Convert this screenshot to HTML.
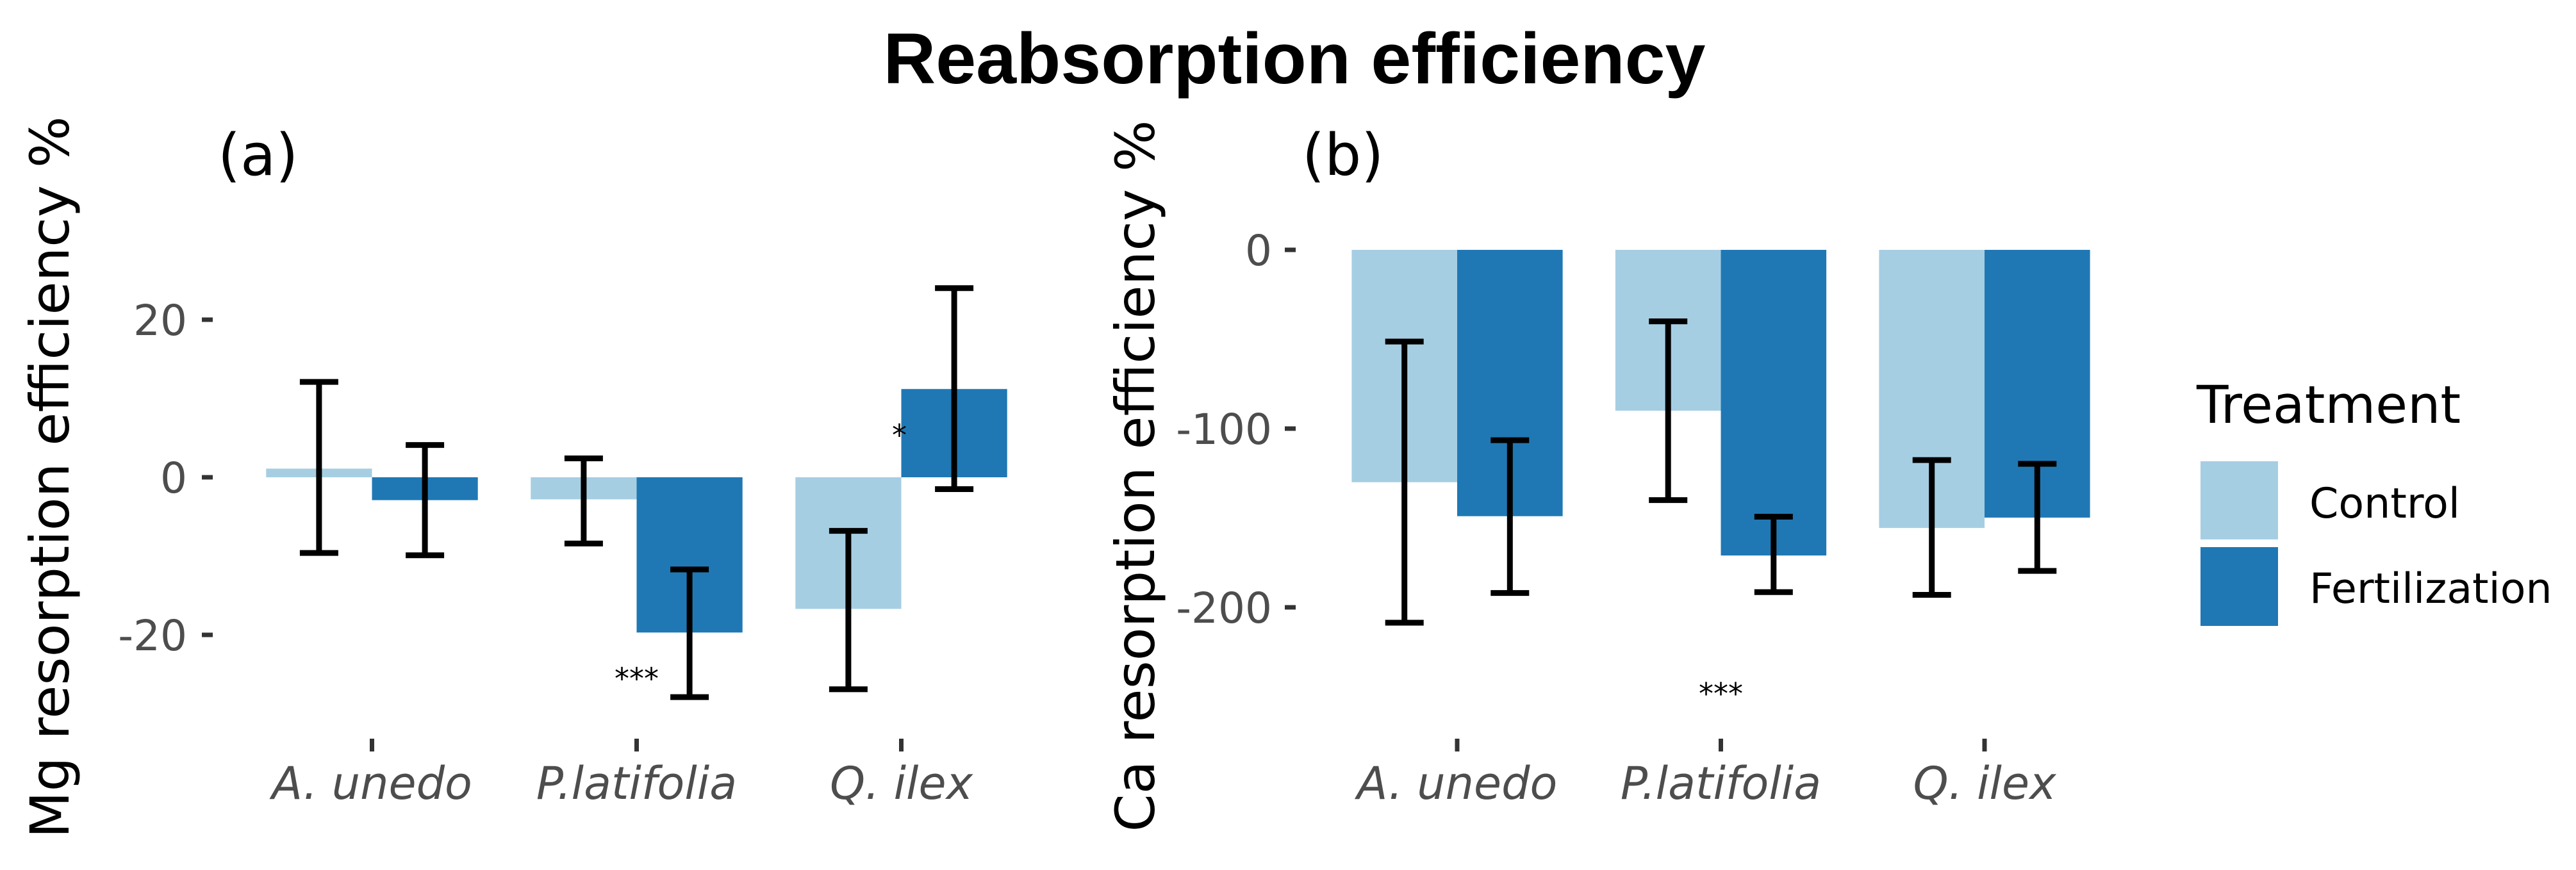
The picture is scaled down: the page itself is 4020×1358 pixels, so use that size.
<!DOCTYPE html>
<html><head><meta charset="utf-8"><style>
html,body{margin:0;padding:0;background:#fff;}
svg{display:block;}
</style></head><body>
<svg id="chart" width="4020" height="1358" viewBox="0 0 4020 1358" xmlns="http://www.w3.org/2000/svg">
<rect x="0" y="0" width="4020" height="1358" fill="#fff"/>
<text x="2020" y="130" text-anchor="middle" font-family="Liberation Sans, Arial, sans-serif" font-weight="bold" font-size="112" textLength="1283" lengthAdjust="spacingAndGlyphs">Reabsorption efficiency</text>
<text x="340" y="273" font-family="DejaVu Sans, sans-serif" font-size="90">(a)</text>
<text x="2032" y="273" font-family="DejaVu Sans, sans-serif" font-size="90">(b)</text>
<text transform="translate(107,745) rotate(-90)" text-anchor="middle" font-family="DejaVu Sans, sans-serif" font-size="84" textLength="1127" lengthAdjust="spacingAndGlyphs">Mg resorption efficiency %</text>
<text transform="translate(1801,743) rotate(-90)" text-anchor="middle" font-family="DejaVu Sans, sans-serif" font-size="84" textLength="1111" lengthAdjust="spacingAndGlyphs">Ca resorption efficiency %</text>
<g id="pa"></g>
<g id="pb"></g>
<g>
<text x="3428" y="660" font-family="DejaVu Sans, sans-serif" font-size="81">Treatment</text>
<rect x="3434" y="720" width="121" height="122" fill="#a6cee3"/>
<rect x="3434" y="854" width="121" height="123" fill="#1f78b4"/>
<text x="3604" y="808" font-family="DejaVu Sans, sans-serif" font-size="65">Control</text>
<text x="3604" y="941" font-family="DejaVu Sans, sans-serif" font-size="65">Fertilization</text>
</g>
</svg>
<script>
const categories = ["A. unedo", "P.latifolia", "Q. ilex"];
const mgControl = [1.1, -2.8, -16.7];
const mgFert = [-2.9, -19.7, 11.2];
const mgControlLo = [-9.6, -8.4, -26.9];
const mgControlHi = [12.1, 2.4, -6.8];
const mgFertLo = [-9.9, -27.9, -1.5];
const mgFertHi = [4.1, -11.7, 24.0];
const mgTicks = [20, 0, -20];
const caControl = [-130, -90, -155.6];
const caFert = [-149, -171, -149.8];
const caControlLo = [-208.6, -140, -193];
const caControlHi = [-51.3, -40, -117.6];
const caFertLo = [-192, -191.5, -179.6];
const caFertHi = [-106.5, -149.3, -119.7];
const caTicks = [0, -100, -200];
const mgSig = [["***", 1, -24.6], ["*", 2, 6.3]];
const caSig = [["***", 1, -244]];

const NS = "http://www.w3.org/2000/svg";
function mk(parent, tag, attrs) {
  const e = document.createElementNS(NS, tag);
  for (const k in attrs) e.setAttribute(k, attrs[k]);
  parent.appendChild(e);
  return e;
}
function drawPanel(g, cfg) {
  const y = v => cfg.y0 - v * cfg.ppu;
  const x = i => cfg.x0 + i * cfg.step;
  const bw = cfg.step * 0.4;
  cfg.ticks.forEach(t => {
    const tl = mk(g, "text", {x: cfg.labelRight, y: y(t) + 24, "text-anchor": "end", "font-family": "DejaVu Sans, sans-serif", "font-size": 66, fill: "#4d4d4d"});
    tl.textContent = t;
    
    
    const tm = mk(g, "line", {x1: cfg.tickX, x2: cfg.tickX + 17, y1: y(t), y2: y(t), stroke: "#333", "stroke-width": 7});
    
    
  });
  categories.forEach((c, i) => {
    const cx = x(i);
    const series = [[cfg.ctrl[i], "#a6cee3", cx - bw, cfg.cLo[i], cfg.cHi[i], "control"], [cfg.fert[i], "#1f78b4", cx, cfg.fLo[i], cfg.fHi[i], "fertilization"]];
    series.forEach(s => {
      const v = s[0];
      const r = mk(g, "rect", {x: s[2], y: Math.min(y(0), y(v)), width: bw, height: Math.abs(y(v) - y(0)), fill: s[1]});
      
      
    });
    series.forEach(s => {
      const ex = s[2] + bw / 2;
      const eg = mk(g, "g", {stroke: "#000", "stroke-width": 9});
      
      
      mk(eg, "line", {x1: ex, x2: ex, y1: y(s[4]), y2: y(s[3])});
      mk(eg, "line", {x1: ex - 30, x2: ex + 30, y1: y(s[4]), y2: y(s[4])});
      mk(eg, "line", {x1: ex - 30, x2: ex + 30, y1: y(s[3]), y2: y(s[3])});
    });
    const xt = mk(g, "line", {x1: cx, x2: cx, y1: 1153, y2: 1173, stroke: "#333", "stroke-width": 7});
    
    
    const xl = mk(g, "text", {x: cx, y: 1247, "text-anchor": "middle", "font-family": "DejaVu Sans, sans-serif", "font-style": "italic", "font-size": 70, fill: "#4d4d4d"});
    xl.textContent = c;
    
    
  });
  cfg.sig.forEach(s => {
    const st = mk(g, "text", {x: s[0] === "*" ? x(s[1]) - 3 : x(s[1]), y: y(s[2]) + 28, "text-anchor": "middle", "font-family": "DejaVu Sans, sans-serif", "font-size": 46, fill: "#000"});
    st.textContent = s[0];
    
    
  });
}
drawPanel(document.getElementById("pa"), {x0: 580.5, step: 413, y0: 745, ppu: 12.3, ticks: mgTicks, labelRight: 292, tickX: 315,
  ctrl: mgControl, fert: mgFert, cLo: mgControlLo, cHi: mgControlHi, fLo: mgFertLo, fHi: mgFertHi, sig: mgSig});
drawPanel(document.getElementById("pb"), {x0: 2274, step: 411.5, y0: 390, ppu: 2.79, ticks: caTicks, labelRight: 1985, tickX: 2005,
  ctrl: caControl, fert: caFert, cLo: caControlLo, cHi: caControlHi, fLo: caFertLo, fHi: caFertHi, sig: caSig});
</script>
</body></html>
